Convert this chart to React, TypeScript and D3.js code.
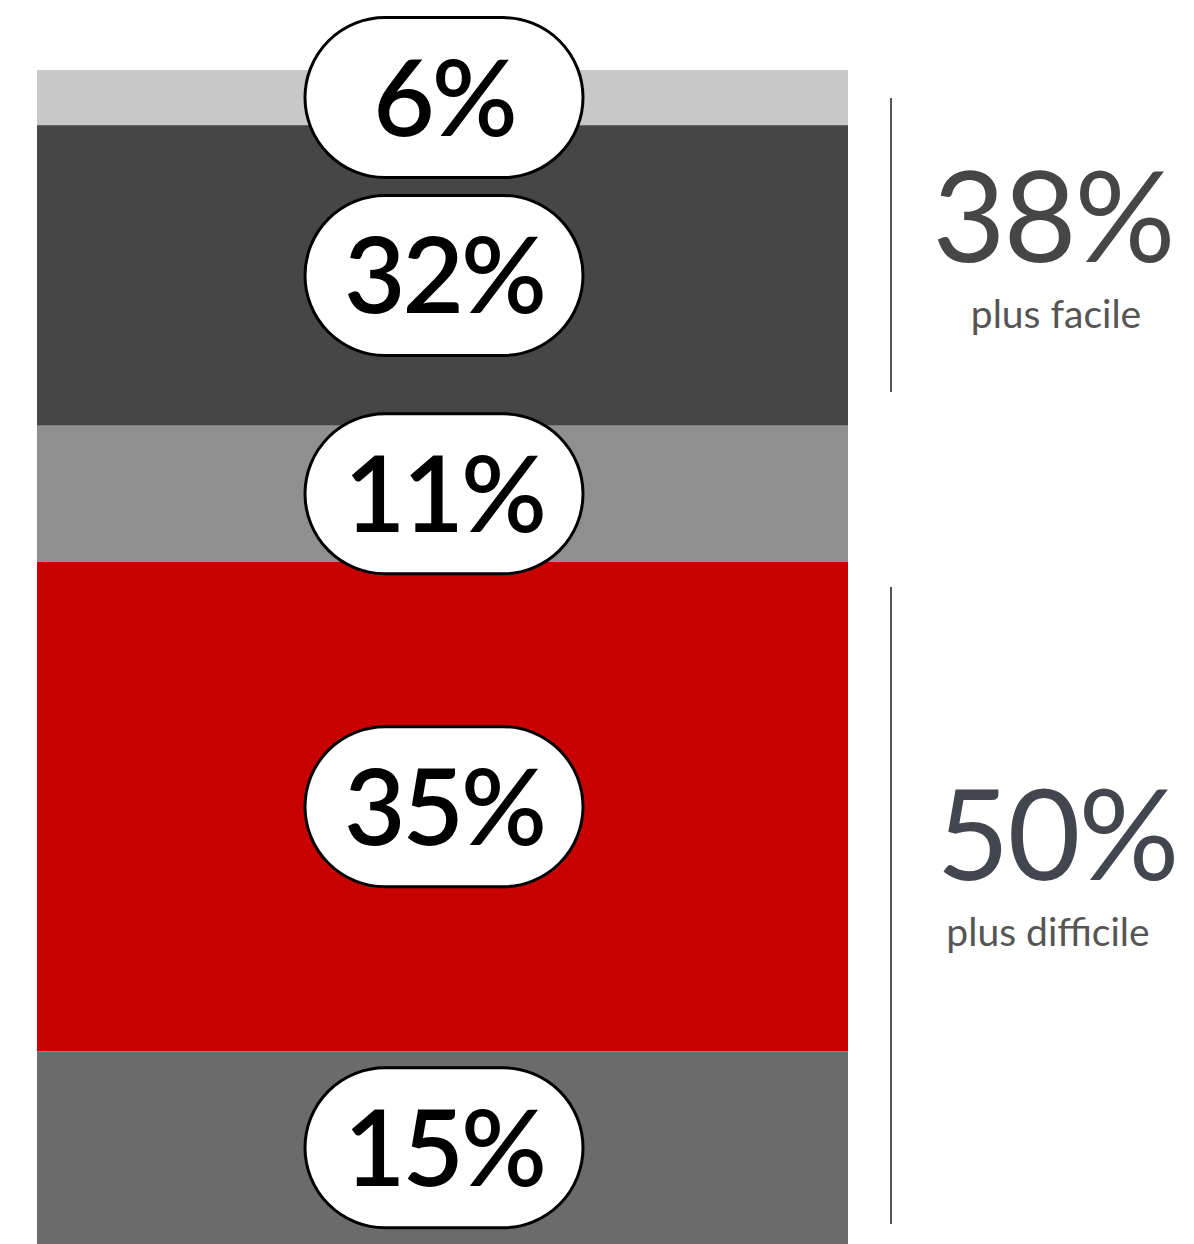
import React from "react";
import * as d3 from "d3";

const categories = ["seg1", "seg2", "seg3", "seg4", "seg5"];
const values = [6, 32, 11, 35, 15];
// visual share of each segment in the bar (sums to 100)
const visualShare = [4.7, 25.6, 11.6, 41.7, 16.4];
const colors = ["#c8c8c8", "#464646", "#8f8f8f", "#c90000", "#6b6b6b"];

const groupValues = [38, 50];
const groupLabels = ["plus facile", "plus difficile"];
const groupColors = ["#464646", "#43454f"];

const W = 1194;
const H = 1244;

export default function App() {
  const barX0 = 37;
  const barX1 = 848;
  const y = d3.scaleLinear().domain([0, 100]).range([70, 1244]);
  const stacks: { y0: number; y1: number }[] = [];
  let acc = 0;
  visualShare.forEach((v) => {
    stacks.push({ y0: acc, y1: acc + v });
    acc += v;
  });
  const cx = 444;
  const bw = 278;
  const bh = 160;
  const numFont = "Lato, 'Open Sans', sans-serif";

  const groups = [
    { y0: 98, y1: 392, tY: 262, lY: 328, tx: 1053, lx: 1056 },
    { y0: 587, y1: 1224, tY: 880, lY: 946, tx: 1057, lx: 1048 },
  ];

  return (
    <svg
      width={W}
      height={H}
      style={{ position: "absolute", left: 0, top: 0, display: "block" }}
    >
      <rect x={0} y={0} width={W} height={H} fill="#ffffff" />
      {categories.map((c, i) => (
        <rect
          key={c}
          x={barX0}
          y={y(stacks[i].y0)}
          width={barX1 - barX0}
          height={y(stacks[i].y1) - y(stacks[i].y0)}
          fill={colors[i]}
        />
      ))}
      {categories.map((c, i) => {
        const cy = (y(stacks[i].y0) + y(stacks[i].y1)) / 2;
        return (
          <g key={c + "-b"}>
            <rect
              x={cx - bw / 2}
              y={cy - bh / 2}
              width={bw}
              height={bh}
              rx={bh / 2}
              ry={bh / 2}
              fill="#ffffff"
              stroke="#000000"
              strokeWidth={3}
            />
            <text
              x={cx}
              y={cy + 38}
              textAnchor="middle"
              fontFamily={numFont}
              fontSize={106}
              fontWeight={600}
              fill="#000000"
              letterSpacing={-3}
            >
              {values[i]}%
            </text>
          </g>
        );
      })}
      {groups.map((g, i) => (
        <g key={"g" + i}>
          <line
            x1={891}
            x2={891}
            y1={g.y0}
            y2={g.y1}
            stroke="#555555"
            strokeWidth={2}
          />
          <text
            x={g.tx}
            y={g.tY}
            textAnchor="middle"
            fontFamily={numFont}
            fontSize={126}
            fill={groupColors[i]}
            letterSpacing={-2}
          >
            {groupValues[i]}%
          </text>
          <text
            x={g.lx}
            y={g.lY}
            textAnchor="middle"
            fontFamily={numFont}
            fontSize={39}
            fill="#555555"
          >
            {groupLabels[i]}
          </text>
        </g>
      ))}
    </svg>
  );
}
